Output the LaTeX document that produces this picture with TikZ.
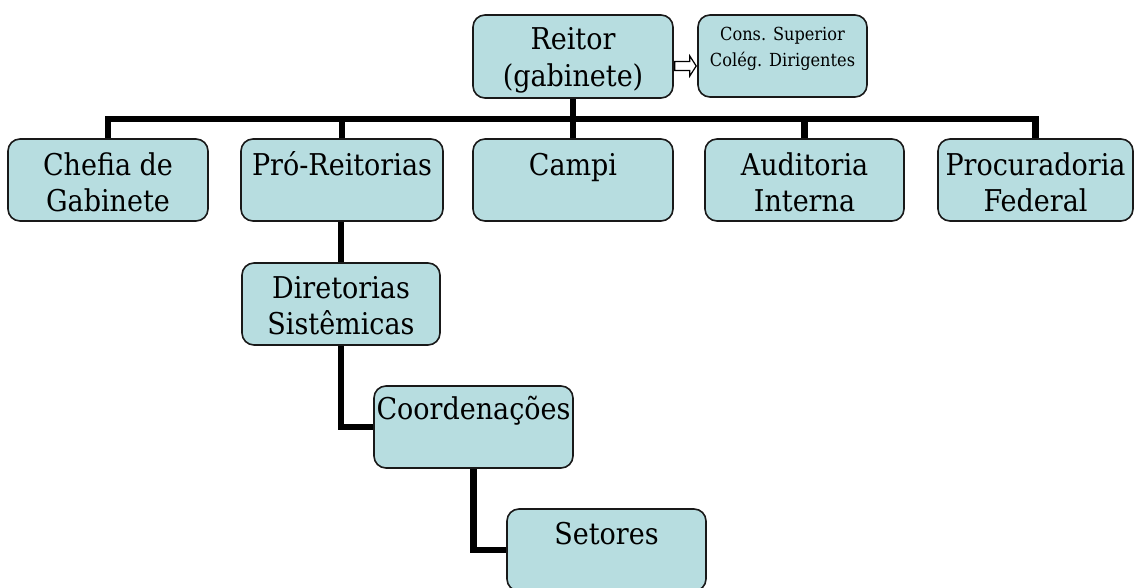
\documentclass[tikz,border=0pt]{standalone}
\usepackage{fontspec}
\setmainfont{DejaVu Serif Condensed}
\usetikzlibrary{calc,backgrounds}
\definecolor{boxfill}{RGB}{183,221,224}
\newcommand\orgtxt[3][27]{\rule{0pt}{#1pt}\smash{#2}\\\smash{#3}}
\begin{document}
\begin{tikzpicture}[x=1pt,y=-1pt,
  orgbox/.style={draw=black!90, line width=1.6pt, fill=boxfill, rounded corners=12pt,
    minimum height=82pt, inner sep=0pt, align=center, font=\fontsize{30}{36.5}\selectfont},
  conn/.style={line width=6.5pt, line join=miter}]
\useasboundingbox (0,0) rectangle (1134,588);
\node[orgbox, minimum width=200pt, minimum height=83pt] (reitor) at (573,56.5) {\orgtxt[23]{Reitor}{(gabinete)}};
\node[orgbox, minimum width=169pt, font=\fontsize{18}{26}\selectfont] (cons) at (782.5,56) {\rule{0pt}{22pt}\smash{Cons. Superior}\\\smash{Colég. Dirigentes}\\\mbox{}};
\node[orgbox, minimum width=200pt] (chefia) at (108,180) {\orgtxt{Chefia de}{Gabinete}};
\node[orgbox, minimum width=202pt] (pro) at (342,180) {\orgtxt{Pró-Reitorias}{}};
\node[orgbox, minimum width=200pt] (campi) at (573,180) {\orgtxt{Campi}{}};
\node[orgbox, minimum width=199pt] (aud) at (804.5,180) {\orgtxt{Auditoria}{Interna}};
\node[orgbox, minimum width=195pt] (proc) at (1035.5,180) {\orgtxt{Procuradoria}{Federal}};
\node[orgbox, minimum width=198pt] (dir) at (341,304) {\orgtxt[25]{Diretorias}{Sistêmicas}};
\node[orgbox, minimum width=199pt] (coord) at (473.5,427) {\orgtxt[22]{Coordenações}{}};
\node[orgbox, minimum width=199pt] (setores) at (606.5,550) {\orgtxt[25]{Setores}{}};
\coordinate (bus) at ($(reitor.south)+(0,20)$);
\begin{scope}[on background layer]
\draw[conn] (chefia.north) |- (bus) -| (proc.north);
\draw[conn] (reitor.south) -- (campi.north);
\draw[conn] (pro.north) -- (pro.north |- bus);
\draw[conn] (aud.north) -- (aud.north |- bus);
\draw[conn] (dir.north) -- (dir.north |- pro.south);
\draw[conn] (dir.south) |- (coord.west);
\draw[conn] (coord.south) |- (setores.west);
\end{scope}
\draw[line width=1.2pt, fill=white, line join=miter]
  ($(reitor.east)+(1,5)$) -- ++(15,0) -- ++(0,-5.5) -- ($(cons.west)+(-1,10)$)
  -- ($(reitor.east)+(16,19.5)$) -- ++(0,-5.5) -- ($(reitor.east)+(1,14)$) -- cycle;
\end{tikzpicture}
\end{document}
